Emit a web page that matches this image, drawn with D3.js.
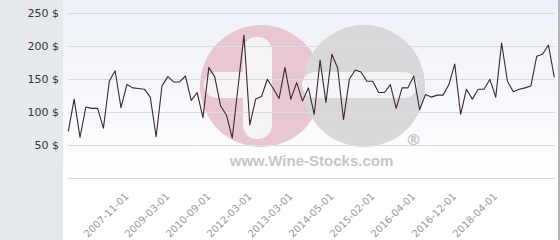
<!DOCTYPE html>
<html><head><meta charset="utf-8">
<script src="https://cdn.jsdelivr.net/npm/d3@7"></script>
<style>html,body{margin:0;padding:0;background:#fff;}svg{display:block;}</style>
</head><body>
<svg id="c" width="560" height="240"></svg>
<script>
const prices = [71,120,62,108,106,106,76,147,163,107,142,137,136,135,123,63,140,154,146,146,
155,118,130,92,168,154,110,96,61,139,217,81,120,124,150,136,121,168,120,145,
117,137,97,179,115,188,167,89,150,164,161,147,147,130,130,142,106,137,137,155,
104,127,123,126,126,142,173,97,135,120,135,135,150,123,205,147,131,135,137,140,
185,188,202,153];
const tickIndex = [11,18,25,32,39,46,53,60,67,74];
const tickLabels = ["2007-11-01","2009-03-01","2010-09-01","2012-03-01","2013-03-01","2014-05-01","2015-02-01","2016-04-01","2016-12-01","2018-04-01"];
const yTicks = [0,50,100,150,200,250];

const svg = d3.select("#c");
const defs = svg.append("defs");
const g = defs.append("linearGradient").attr("id","bg").attr("x1",0).attr("y1",0).attr("x2",0).attr("y2",1);
g.append("stop").attr("offset","0%").attr("stop-color","#eef1f8");
g.append("stop").attr("offset","80%").attr("stop-color","#ffffff");

svg.append("rect").attr("x",0).attr("y",0).attr("width",560).attr("height",240).attr("fill","url(#bg)");
svg.append("rect").attr("x",0).attr("y",0).attr("width",63).attr("height",240).attr("fill","#e5e9ed");
svg.append("rect").attr("x",558).attr("y",0).attr("width",2).attr("height",240).attr("fill","#b4b4b4");

const x = d3.scalePoint().domain(d3.range(prices.length)).range([68.3,554.3]);
const y = d3.scaleLinear().domain([0,250]).range([178.3,13.3]);

// watermark
const wm = svg.append("g");
wm.append("circle").attr("cx",261).attr("cy",86).attr("r",61).attr("fill","#e8c8d0");
wm.append("circle").attr("cx",364).attr("cy",86).attr("r",61).attr("fill","#d8d8da");
wm.append("rect").attr("x",243).attr("y",37).attr("width",29).attr("height",102).attr("rx",14).attr("fill","#f6f3f6");
wm.append("rect").attr("x",204).attr("y",72).attr("width",66).attr("height",26).attr("rx",13).attr("fill","#f6f3f6");
wm.append("rect").attr("x",302).attr("y",72).attr("width",115).attr("height",26).attr("rx",13).attr("fill","#f4f5f8");
wm.append("text").attr("x",413.5).attr("y",145).attr("text-anchor","middle")
  .attr("font-family","DejaVu Sans").attr("font-size",16).attr("font-weight","bold").attr("fill","#c8c8c8").text("®");
wm.append("rect").attr("x",197).attr("y",148).attr("width",230).attr("height",26).attr("fill","#ffffff").attr("opacity",0.6);
wm.append("text").attr("x",311.5).attr("y",166).attr("text-anchor","middle")
  .attr("font-family","'Liberation Sans', Arial, sans-serif").attr("font-size",15).attr("font-weight","bold")
  .attr("fill","#c6c6c6").text("www.Wine-Stocks.com");

// grid
svg.append("g").selectAll("line").data(yTicks).join("line")
  .attr("x1",68).attr("x2",555).attr("y1",d=>Math.round(y(d))+0.5).attr("y2",d=>Math.round(y(d))+0.5)
  .attr("stroke","#dcdcdc").attr("stroke-width",1);

// y labels
svg.append("g").selectAll("text").data(yTicks.filter(d=>d>0)).join("text")
  .attr("x",59).attr("y",d=>y(d)).attr("dy","0.35em").attr("text-anchor","end")
  .attr("font-family","DejaVu Sans").attr("font-size",11).attr("fill","#333")
  .text(d=>d+" $");

// x labels
svg.append("g").selectAll("text").data(tickIndex).join("text")
  .attr("text-anchor","end")
  .attr("transform",(d)=>`translate(${x(d)-3.5},197) rotate(-45)`)
  .attr("font-family","DejaVu Sans").attr("font-size",10).attr("fill","#999")
  .text((d,i)=>tickLabels[i]);

// line
svg.append("path").datum(prices)
  .attr("d",d3.line().x((d,i)=>x(i)).y(d=>y(d)))
  .attr("fill","none").attr("stroke","#3d2630").attr("stroke-width",1.1).attr("stroke-linejoin","round");
</script>
</body></html>
